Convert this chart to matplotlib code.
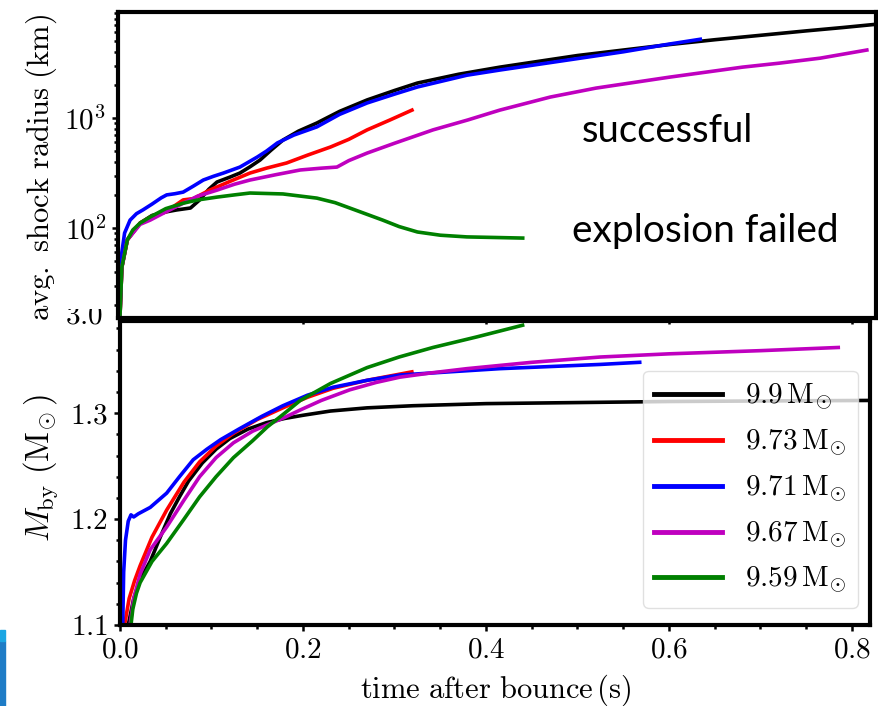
import matplotlib
matplotlib.use("Agg")
import matplotlib.pyplot as plt
from matplotlib.ticker import MultipleLocator, FuncFormatter, LogLocator, NullFormatter
from matplotlib.patches import Rectangle

plt.rcParams.update({
    "font.family": "serif",
    "font.serif": ["cmr10"],
    "mathtext.fontset": "cm",
    "axes.formatter.use_mathtext": True,
    "axes.unicode_minus": False,
})

# ---- models ----
labels = [r"$9.9\,\mathrm{M}_{\!\odot}$", r"$9.73\,\mathrm{M}_{\!\odot}$", r"$9.71\,\mathrm{M}_{\!\odot}$",
          r"$9.67\,\mathrm{M}_{\!\odot}$", r"$9.59\,\mathrm{M}_{\!\odot}$"]
colors = ["k", "r", "b", "m", "g"]

# ---- average shock radius (km) vs time after bounce (s) ----
t_r99 = [0.0, 0.002, 0.008, 0.022, 0.035, 0.05, 0.062, 0.077, 0.087, 0.097, 0.106, 0.12, 0.131,
         0.142, 0.153, 0.165, 0.178, 0.195, 0.215, 0.24, 0.27, 0.30, 0.325, 0.37, 0.415, 0.46,
         0.50, 0.55, 0.60, 0.65, 0.70, 0.75, 0.79, 0.825]
r_r99 = [16, 44, 78, 111, 130, 140, 146, 152, 180, 225, 262, 290, 316,
         360, 415, 510, 630, 760, 900, 1150, 1460, 1780, 2080, 2500, 2900, 3300,
         3700, 4150, 4650, 5150, 5650, 6200, 6650, 7100]

t_r973 = [0.0, 0.002, 0.008, 0.022, 0.035, 0.05, 0.06, 0.069, 0.08, 0.098, 0.12, 0.142, 0.16,
          0.182, 0.205, 0.23, 0.25, 0.27, 0.295, 0.319]
r_r973 = [16, 44, 78, 111, 128, 140, 160, 180, 185, 221, 265, 316, 350,
          390, 460, 545, 640, 780, 960, 1180]

t_r971 = [0.0, 0.002, 0.005, 0.011, 0.018, 0.025, 0.035, 0.045, 0.051, 0.06, 0.069, 0.08, 0.091,
          0.102, 0.113, 0.131, 0.150, 0.160, 0.172, 0.19, 0.215, 0.24, 0.27, 0.30, 0.325, 0.379,
          0.415, 0.46, 0.503, 0.55, 0.60, 0.634]
r_r971 = [20, 60, 90, 118, 135, 146, 165, 188, 200, 205, 212, 240, 273,
          295, 316, 358, 442, 500, 594, 700, 830, 1080, 1370, 1650, 1915, 2450,
          2730, 3100, 3500, 4000, 4700, 5200]

t_r967 = [0.0, 0.002, 0.008, 0.022, 0.033, 0.05, 0.069, 0.085, 0.106, 0.125, 0.142, 0.17, 0.197,
          0.22, 0.237, 0.25, 0.27, 0.30, 0.342, 0.38, 0.415, 0.47, 0.52, 0.60, 0.68, 0.72,
          0.765, 0.816]
r_r967 = [16, 44, 78, 108, 118, 140, 168, 195, 221, 250, 273, 305, 337,
          350, 358, 410, 480, 590, 780, 960, 1180, 1550, 1870, 2350, 2900, 3150,
          3500, 4150]

t_r959 = [0.0, 0.002, 0.008, 0.014, 0.022, 0.033, 0.05, 0.069, 0.085, 0.106, 0.125, 0.142, 0.16,
          0.178, 0.195, 0.215, 0.235, 0.251, 0.27, 0.287, 0.305, 0.325, 0.35, 0.379, 0.41, 0.44]
r_r959 = [16, 44, 78, 96, 111, 126, 150, 168, 180, 191, 200, 208, 206,
          204, 196, 187, 170, 152, 133, 118, 103, 92, 86, 83, 82, 81]

# ---- baryonic mass coordinate of the shock (Msun) ----
t_m99 = [0.009, 0.015, 0.022, 0.033, 0.045, 0.055, 0.065, 0.075, 0.09, 0.105, 0.12, 0.14, 0.16,
         0.18, 0.20, 0.23, 0.27, 0.32, 0.40, 0.50, 0.60, 0.70, 0.82]
m_m99 = [1.100, 1.125, 1.143, 1.160, 1.185, 1.205, 1.221, 1.236, 1.253, 1.266, 1.276, 1.285, 1.291,
         1.295, 1.298, 1.302, 1.305, 1.307, 1.309, 1.310, 1.311, 1.3115, 1.312]

t_m973 = [0.005, 0.010, 0.016, 0.022, 0.035, 0.051, 0.07, 0.087, 0.105, 0.124, 0.15, 0.178, 0.205,
          0.233, 0.27, 0.319]
m_m973 = [1.100, 1.125, 1.142, 1.156, 1.183, 1.2085, 1.235, 1.254, 1.269, 1.281, 1.294, 1.305, 1.315,
          1.3235, 1.331, 1.339]

t_m971 = [0.003, 0.004, 0.006, 0.009, 0.012, 0.015, 0.02, 0.033, 0.051, 0.065, 0.08, 0.095, 0.11,
          0.13, 0.155, 0.178, 0.205, 0.233, 0.27, 0.306, 0.36, 0.415, 0.47, 0.525, 0.568]
m_m971 = [1.100, 1.150, 1.180, 1.198, 1.204, 1.202, 1.205, 1.211, 1.2245, 1.240, 1.256, 1.266, 1.275,
          1.285, 1.297, 1.307, 1.317, 1.3245, 1.331, 1.336, 1.339, 1.342, 1.344, 1.346, 1.348]

t_m967 = [0.011, 0.015, 0.022, 0.033, 0.051, 0.07, 0.087, 0.105, 0.124, 0.145, 0.161, 0.18, 0.197,
          0.22, 0.251, 0.28, 0.306, 0.34, 0.379, 0.45, 0.525, 0.60, 0.70, 0.785]
m_m967 = [1.100, 1.125, 1.148, 1.171, 1.1925, 1.218, 1.240, 1.258, 1.272, 1.283, 1.289, 1.296, 1.303,
          1.312, 1.322, 1.329, 1.334, 1.338, 1.342, 1.348, 1.353, 1.356, 1.359, 1.362]

t_m959 = [0.012, 0.014, 0.018, 0.022, 0.035, 0.051, 0.07, 0.087, 0.105, 0.124, 0.145, 0.161, 0.18,
          0.197, 0.23, 0.27, 0.305, 0.342, 0.39, 0.44]
m_m959 = [1.100, 1.115, 1.130, 1.140, 1.160, 1.177, 1.200, 1.221, 1.240, 1.258, 1.274, 1.287, 1.300,
          1.312, 1.328, 1.343, 1.353, 1.362, 1.372, 1.383]

radius_series = [(t_r99, r_r99), (t_r973, r_r973), (t_r971, r_r971), (t_r967, r_r967), (t_r959, r_r959)]
mass_series = [(t_m99, m_m99), (t_m973, m_m973), (t_m971, m_m971), (t_m967, m_m967), (t_m959, m_m959)]

W, H = 879, 706
fig = plt.figure(figsize=(W / 100, H / 100), dpi=100)


def px_axes(x0, y0, x1, y1):
    return fig.add_axes([x0 / W, 1 - y1 / H, (x1 - x0) / W, (y1 - y0) / H])


def fig_xy(x, y):
    return x / W, 1 - y / H


ax_m = px_axes(120, 321, 870, 625)
ax_r = px_axes(118, 12, 876, 318)

LW = 2.6
for ax in (ax_r, ax_m):
    for s in ax.spines.values():
        s.set_linewidth(3.0)
    ax.tick_params(which="both", direction="out", width=1.8, labelsize=21,
                   top=False, right=False)
    ax.tick_params(which="major", length=4.5, pad=4)
    ax.tick_params(which="minor", length=3)

# upper panel: shock radius
for (t, r), c in zip(radius_series, colors):
    ax_r.plot(t, r, color=c, lw=LW, solid_joinstyle="round")
ax_r.set_yscale("log")
ax_r.set_xlim(-0.0022, 0.826)
ax_r.set_ylim(15.2, 9200)
ax_r.yaxis.set_major_locator(LogLocator(base=10, numticks=10))
ax_r.yaxis.set_minor_locator(LogLocator(base=10, subs=range(2, 10), numticks=20))
ax_r.yaxis.set_minor_formatter(NullFormatter())
ax_r.xaxis.set_minor_locator(MultipleLocator(0.05))
ax_r.xaxis.set_major_locator(MultipleLocator(0.2))
ax_r.tick_params(axis="x", which="both", labelbottom=False)

fig.text(*fig_xy(582, 142), "successful", fontsize=27.5, family="Lato",
         ha="left", va="baseline")
fig.text(*fig_xy(572, 242), "explosion failed", fontsize=28, family="Lato",
         ha="left", va="baseline")

# lower panel: shock mass coordinate
handles = []
for (t, m), c, lab in zip(mass_series, colors, labels):
    h, = ax_m.plot(t, m, color=c, lw=LW, label=lab, solid_joinstyle="round")
    handles.append(h)
ax_m.set_xlim(0, 0.8197)
ax_m.set_ylim(1.1, 1.387)
ax_m.xaxis.set_major_locator(MultipleLocator(0.2))
ax_m.xaxis.set_minor_locator(MultipleLocator(0.05))
ax_m.yaxis.set_major_locator(MultipleLocator(0.1))
ax_m.yaxis.set_minor_locator(MultipleLocator(0.02))
ax_m.xaxis.set_major_formatter(FuncFormatter(lambda v, p: f"${v:.1f}$"))
ax_m.yaxis.set_major_formatter(FuncFormatter(lambda v, p: f"${v:.1f}$"))

leg = ax_m.legend(handles=handles, loc="lower right", fontsize=21,
                  bbox_to_anchor=fig_xy(858, 608), bbox_transform=fig.transFigure,
                  borderaxespad=0, handlelength=2.3, handletextpad=0.8,
                  labelspacing=0.5, framealpha=0.8, fancybox=True, edgecolor="0.85")
for lh in leg.get_lines():
    lh.set_linewidth(3.5)

# axis labels
fig.text(*fig_xy(41, 167), r"$\mathrm{avg.\ shock\ radius\ (km)}$", rotation=90,
         ha="center", va="center", fontsize=22)
fig.text(*fig_xy(41, 468), r"$M_\mathrm{by}\ (\mathrm{M}_{\!\odot})$", rotation=90,
         ha="center", va="center", fontsize=23.5)
fig.text(*fig_xy(496, 690), r"$\mathrm{time\ after\ bounce\,(s)}$",
         ha="center", va="center", fontsize=22)

# partially hidden tick value at the panel join
fig.text(*fig_xy(84, 324), r"$3.0$", ha="center", va="baseline", fontsize=21)
fig.patches.append(Rectangle(fig_xy(50, 309), 62 / W, 25 / H, transform=fig.transFigure,
                             facecolor="white", edgecolor="none", zorder=10))

# blue side bar
fig.patches.append(Rectangle((0, 0), 5 / W, 1 - 641 / H, transform=fig.transFigure,
                             color="#1e7cc6", zorder=5))
fig.patches.append(Rectangle(fig_xy(0, 641), 5 / W, 11 / H, transform=fig.transFigure,
                             color="#1ba6e3", zorder=5))

fig.savefig("out.png", dpi=100)
